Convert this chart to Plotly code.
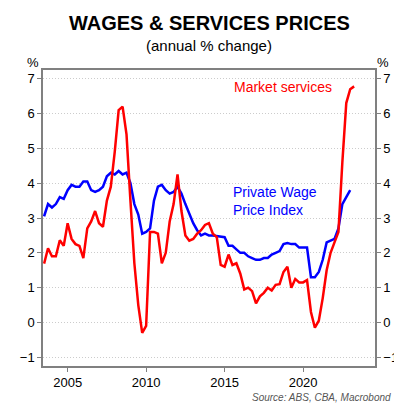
import plotly.graph_objects as go

start = 2003.5
market_services = [1.69,2.13,1.9,1.9,2.36,2.2,2.85,2.4,2.25,2.2,
 1.85,2.7,2.9,3.2,2.85,2.75,3.5,3.9,4.9,6.1,
 6.2,5.4,3.5,1.7,0.5,-0.3,-0.1,2.6,2.6,2.55,
 1.7,2.0,2.9,3.4,4.25,3.2,2.5,2.35,2.4,2.55,
 2.65,2.8,2.85,2.55,2.45,
 1.65,1.6,1.95,1.65,1.7,1.4,0.95,1.0,0.9,0.55,0.75,0.85,1.0,0.92,1.08,1.1,1.45,1.6,1.0,1.25,1.15,1.15,1.22,
 0.3,-0.15,0.05,0.7,1.5,2.0,2.3,2.6,4.6,6.3,6.7,6.78]
private_wpi = [3.05,3.4,3.3,3.4,3.6,3.55,3.8,3.95,3.9,3.9,
 4.05,4.05,3.8,3.75,3.8,3.9,4.2,4.3,4.25,4.35,
 4.25,4.3,4.0,3.4,3.1,2.55,2.6,2.7,3.5,3.9,
 3.95,3.8,3.7,3.75,3.9,3.7,3.4,3.1,2.85,2.65,
 2.5,2.55,2.5,2.5,2.48,
 2.45,2.45,2.2,2.2,2.1,2.0,2.0,1.9,1.85,1.8,1.8,1.85,1.85,1.95,2.0,2.05,2.25,2.28,2.25,2.25,2.15,2.15,2.15,
 1.3,1.3,1.45,1.8,2.3,2.35,2.4,2.7,3.4,3.6,3.8]
x_ticks = [2005, 2010, 2015, 2020]
y_ticks = [-1, 0, 1, 2, 3, 4, 5, 6, 7]

def dates(v):
    return [start + 0.25 * i for i in range(len(v))]

fig = go.Figure()
fig.add_trace(go.Scatter(x=dates(private_wpi), y=private_wpi, mode="lines",
                         line=dict(color="#0000ff", width=2.5)))
fig.add_trace(go.Scatter(x=dates(market_services), y=market_services, mode="lines",
                         line=dict(color="#ff0000", width=2.5)))
fig.add_trace(go.Scatter(x=[2010], y=[0], yaxis="y2", mode="markers",
                         marker=dict(opacity=0), hoverinfo="skip"))
ax = dict(range=[-1.25, 7.25], tickvals=y_ticks, showline=True, linecolor="#808080",
          linewidth=1.5, ticks="outside", ticklen=4, tickcolor="#808080",
          tickfont=dict(size=13, color="black", family="Arial, Liberation Sans"),
          zeroline=False)
fig.update_layout(
    width=402, height=406, showlegend=False,
    paper_bgcolor="white", plot_bgcolor="white",
    margin=dict(l=22, r=29, t=62, b=48),
    font=dict(family="Arial, Liberation Sans"),
    xaxis=dict(range=[2003.43, 2024.58], tickvals=x_ticks, showline=True, mirror=True,
               linecolor="#808080", linewidth=1.5, ticks="outside", ticklen=4,
               tickcolor="#808080", showgrid=False,
               tickfont=dict(size=13, color="black")),
    yaxis=dict(**ax, side="left", mirror=True, showgrid=True, gridcolor="#cccccc",
               griddash="1px,2px", gridwidth=1),
    yaxis2=dict(**ax, side="right", overlaying="y", showgrid=False),
    annotations=[
        dict(text="<b>WAGES & SERVICES PRICES</b>", x=0.5, y=1, xref="paper", yref="paper",
             xanchor="center", yanchor="top", showarrow=False, font=dict(size=20, color="black"),
             yshift=60),
        dict(text="(annual % change)", x=0.5, y=1, xref="paper", yref="paper",
             xanchor="center", yanchor="top", showarrow=False, font=dict(size=15, color="black"),
             yshift=35),
        dict(text="%", x=0, y=1, xref="paper", yref="paper", xanchor="center", yanchor="bottom",
             showarrow=False, font=dict(size=13, color="black"), xshift=-10, yshift=-2),
        dict(text="%", x=1, y=1, xref="paper", yref="paper", xanchor="center", yanchor="bottom",
             showarrow=False, font=dict(size=13, color="black"), xshift=8, yshift=-2),
        dict(text="Market services", x=2018.7, y=6.75, showarrow=False, xanchor="center",
             font=dict(size=14, color="#ff0000")),
        dict(text="Private Wage<br>Price Index", x=2015.4, y=3.5, showarrow=False, xanchor="left",
             align="left", font=dict(size=14, color="#0000ff")),
        dict(text="<i>Source: ABS, CBA, Macrobond</i>", x=1, y=0, xref="paper", yref="paper",
             xanchor="right", yanchor="top", showarrow=False, xshift=18, yshift=-24,
             font=dict(size=10, color="#555555")),
    ],
)
fig.write_html("out.html")
